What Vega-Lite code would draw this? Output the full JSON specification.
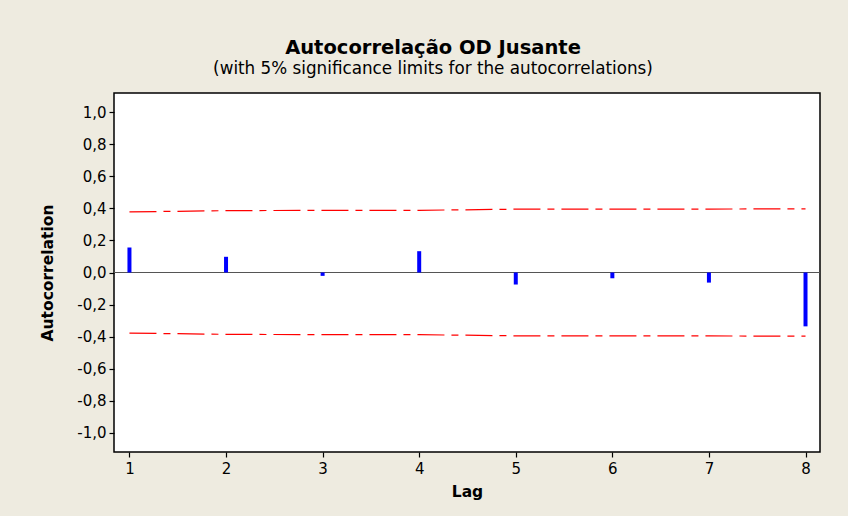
{
  "$schema": "https://vega.github.io/schema/vega-lite/v6.json",
  "autosize": {"type": "none"},
  "width": 706,
  "height": 359,
  "padding": {"left": 114, "right": 28, "top": 93, "bottom": 64},
  "background": "#EEEBE0",
  "title": {
    "text": "Autocorrelação OD Jusante",
    "subtitle": "(with 5% significance limits for the autocorrelations)",
    "anchor": "middle",
    "frame": "group",
    "dx": -34,
    "offset": 14,
    "font": "DejaVu Sans",
    "fontSize": 19.5,
    "fontWeight": "bold",
    "color": "#000000",
    "subtitleFont": "DejaVu Sans",
    "subtitleFontSize": 16.8,
    "subtitleColor": "#000000",
    "subtitlePadding": 3
  },
  "config": {
    "view": {"fill": "#FFFFFF", "stroke": "#000000", "strokeWidth": 1.5},
    "axis": {
      "labelFont": "DejaVu Sans",
      "labelFontSize": 15,
      "labelColor": "#000000",
      "titleFont": "DejaVu Sans",
      "titleFontSize": 15.5,
      "titleFontWeight": "bold",
      "titleColor": "#000000",
      "tickColor": "#000000",
      "tickSize": 5,
      "tickWidth": 1.2,
      "grid": false,
      "domain": false
    }
  },
  "data": {
    "values": [
      {"lag": 1, "acf": 0.156, "upper": 0.378, "lower": -0.378},
      {"lag": 2, "acf": 0.098, "upper": 0.386, "lower": -0.386},
      {"lag": 3, "acf": -0.021, "upper": 0.388, "lower": -0.388},
      {"lag": 4, "acf": 0.133, "upper": 0.388, "lower": -0.388},
      {"lag": 5, "acf": -0.075, "upper": 0.395, "lower": -0.395},
      {"lag": 6, "acf": -0.036, "upper": 0.396, "lower": -0.396},
      {"lag": 7, "acf": -0.063, "upper": 0.396, "lower": -0.396},
      {"lag": 8, "acf": -0.336, "upper": 0.397, "lower": -0.397}
    ]
  },
  "layer": [
    {
      "mark": {"type": "rule", "color": "#555555", "strokeWidth": 1.2},
      "encoding": {
        "y": {"datum": 0, "type": "quantitative"}
      }
    },
    {
      "mark": {"type": "rule", "color": "#0000FF", "strokeWidth": 4},
      "encoding": {
        "x": {
          "field": "lag",
          "type": "quantitative",
          "title": "Lag",
          "scale": {"domain": [0.84, 8.15], "nice": false, "zero": false},
          "axis": {"values": [1, 2, 3, 4, 5, 6, 7, 8], "tickCount": 8, "format": "d", "labelPadding": 4, "titlePadding": 8, "labelOverlap": false}
        },
        "y": {
          "field": "acf",
          "type": "quantitative",
          "title": "Autocorrelation",
          "scale": {"domain": [-1.12, 1.12], "nice": false},
          "axis": {
            "values": [-1, -0.8, -0.6, -0.4, -0.2, 0, 0.2, 0.4, 0.6, 0.8, 1],
            "tickCount": 11,
            "labelExpr": "replace(replace(format(datum.value, '.1f'), '.', ','), '\u2212', '-')",
            "labelOverlap": false,
            "labelPadding": 3,
            "titlePadding": 21
          }
        },
        "y2": {"datum": 0}
      }
    },
    {
      "transform": [{"fold": ["upper", "lower"], "as": ["limit", "value"]}],
      "mark": {"type": "line", "color": "#FF0000", "strokeWidth": 1.2, "strokeDash": [27, 7, 7, 7]},
      "encoding": {
        "x": {"field": "lag", "type": "quantitative"},
        "y": {"field": "value", "type": "quantitative"},
        "detail": {"field": "limit", "type": "nominal"}
      }
    }
  ]
}
